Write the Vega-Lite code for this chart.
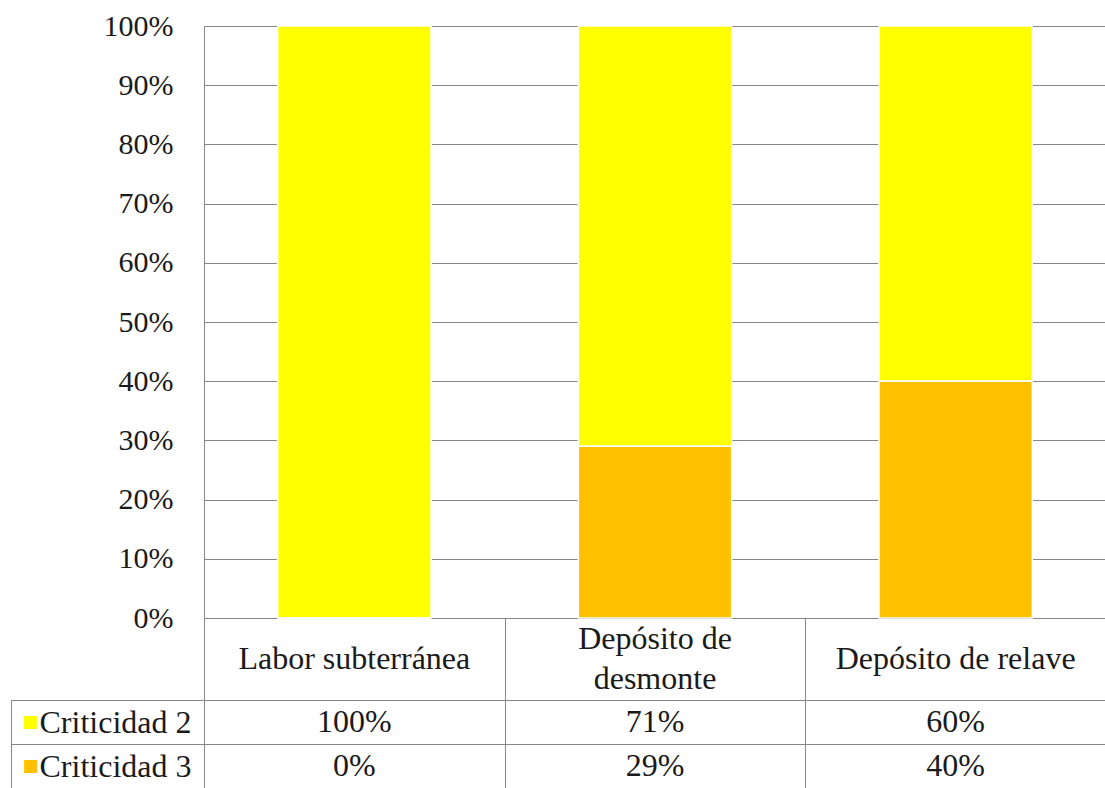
{
  "$schema": "https://vega.github.io/schema/vega-lite/v6.json",
  "background": "white",
  "padding": {"left": 10, "top": 11, "right": 0, "bottom": 0},
  "spacing": 0,
  "bounds": "flush",
  "datasets": {
    "d": [
      {"categoria": "Labor subterránea", "criticidad": "Criticidad 2", "valor": 1.0},
      {"categoria": "Labor subterránea", "criticidad": "Criticidad 3", "valor": 0.0},
      {"categoria": "Depósito de\ndesmonte", "criticidad": "Criticidad 2", "valor": 0.71},
      {"categoria": "Depósito de\ndesmonte", "criticidad": "Criticidad 3", "valor": 0.29},
      {"categoria": "Depósito de relave", "criticidad": "Criticidad 2", "valor": 0.6},
      {"categoria": "Depósito de relave", "criticidad": "Criticidad 3", "valor": 0.4}
    ]
  },
  "config": {
    "view": {"stroke": null},
    "font": "Liberation Serif",
    "axis": {"gridColor": "#868686", "gridOpacity": 1, "domainColor": "#868686", "tickColor": "#868686", "labelFont": "Liberation Serif", "labelColor": "#1a1a1a"}
  },
  "resolve": {"scale": {"x": "independent", "y": "independent", "color": "independent"}},
  "vconcat": [
    {
      "width": 902,
      "height": 592,
      "data": {"name": "d"},
      "mark": {"type": "bar", "stroke": "white", "strokeWidth": 1.5},
      "encoding": {
        "x": {"field": "categoria", "type": "nominal", "sort": null, "scale": {"paddingInner": 0.49, "paddingOuter": 0.245}, "axis": null},
        "y": {
          "field": "valor", "type": "quantitative", "stack": "zero",
          "scale": {"domain": [0, 1], "nice": false},
          "axis": {"values": [0, 0.1, 0.2, 0.3, 0.4, 0.5, 0.6, 0.7, 0.8, 0.9, 1], "format": ".0%", "title": null, "grid": true, "domain": true, "ticks": false, "labelFontSize": 30, "labelPadding": 31}
        },
        "color": {"field": "criticidad", "type": "nominal", "scale": {"domain": ["Criticidad 2", "Criticidad 3"], "range": ["#FFFF00", "#FFC000"]}, "legend": null},
        "order": {"field": "criticidad", "sort": "descending"}
      }
    },
    {
      "width": 902,
      "height": 82,
      "data": {"name": "d"},
      "transform": [{"filter": "datum.criticidad === 'Criticidad 2'"}],
      "encoding": {
        "x": {"field": "categoria", "type": "nominal", "sort": null,
          "scale": {"domain": ["Labor subterránea", "Depósito de\ndesmonte", "Depósito de relave"], "paddingInner": 0, "paddingOuter": 0},
          "axis": {"title": null, "labels": false, "ticks": false, "domain": false, "grid": true, "tickBand": "extent"}},
        "text": {"field": "categoria"}
      },
      "layer": [
        {
          "transform": [{"filter": "indexof(datum.categoria, '\\n') < 0"}],
          "mark": {"type": "text", "fontSize": 32, "color": "#1a1a1a", "font": "Liberation Serif"}
        },
        {
          "transform": [{"filter": "indexof(datum.categoria, '\\n') >= 0"}],
          "mark": {"type": "text", "fontSize": 32, "lineBreak": "\n", "lineHeight": 40, "dy": -20, "color": "#1a1a1a", "font": "Liberation Serif"}
        }
      ]
    },
    {
      "width": 902,
      "height": 88,
      "data": {"name": "d"},
      "layer": [
        {
          "mark": {"type": "text", "fontSize": 32, "color": "#1a1a1a", "font": "Liberation Serif"},
          "encoding": {
            "x": {"field": "categoria", "type": "nominal", "sort": null, "scale": {"paddingInner": 0, "paddingOuter": 0},
              "axis": {"title": null, "labels": false, "ticks": false, "domain": false, "grid": true, "tickBand": "extent"}},
            "y": {"field": "criticidad", "type": "nominal", "scale": {"paddingInner": 0, "paddingOuter": 0},
              "axis": {"title": null, "tickBand": "extent", "grid": true, "ticks": true, "tickSize": 193, "domain": false,
                "labelAlign": "left", "labelBaseline": "middle", "labelPadding": -28, "labelFontSize": 32}},
            "text": {"field": "valor", "type": "quantitative", "format": ".0%"}
          }
        },
        {
          "mark": {"type": "text", "opacity": 0},
          "encoding": {
            "y": {"field": "criticidad", "type": "nominal",
              "axis": {"title": null, "orient": "left", "offset": 193, "domain": true, "ticks": false, "grid": false,
                "labelExpr": "'■'", "labelAlign": "left", "labelBaseline": "middle", "labelPadding": -11, "labelFont": "DejaVu Sans", "labelFontSize": 17,
                "labelColor": {"condition": {"test": "datum.value === 'Criticidad 2'", "value": "#FFFF00"}, "value": "#FFC000"}}},
            "text": {"value": ""}
          }
        }
      ],
      "resolve": {"axis": {"y": "independent"}}
    }
  ]
}
